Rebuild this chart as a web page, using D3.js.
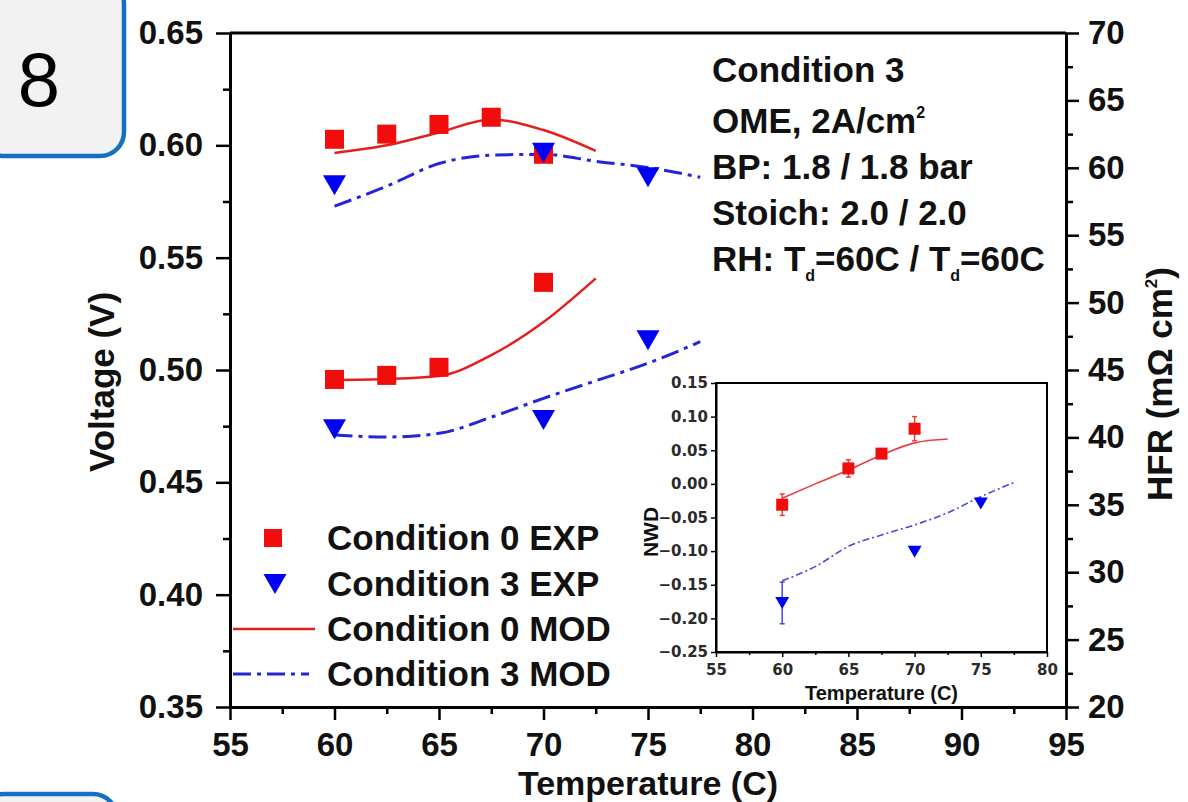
<!DOCTYPE html>
<html>
<head>
<meta charset="utf-8">
<script src="https://cdn.jsdelivr.net/npm/d3@7"></script>
<style>
  body { margin: 0; background: #fff; }
  svg { display: block; }
</style>
</head>
<body>
<script>
// main chart data
const expTemp0 = [60, 62.5, 65, 67.5, 70];
const expVolt0 = [0.6027, 0.605, 0.6093, 0.6125, 0.596];
const expTempHfr0 = [60, 62.5, 65, 70];
const expHfr0 = [44.3, 44.6, 45.2, 51.5];
const expTemp3 = [60, 70, 75];
const expVolt3 = [0.5822, 0.5967, 0.5858];
const expHfr3 = [40.6, 41.3, 47.2];

const modTemp0 = [60, 62.5, 65, 67.5, 70, 72.5];
const modVolt0 = [0.5966, 0.600, 0.6057, 0.6115, 0.6068, 0.5975];
const modHfr0 = [44.26, 44.33, 44.55, 46.1, 48.56, 51.8];
const modTemp3 = [60, 62.5, 65, 67.5, 70, 72.5, 75, 77.5];
const modVolt3 = [0.5729, 0.5818, 0.5919, 0.5956, 0.596, 0.5929, 0.5901, 0.5858];
const modHfr3 = [40.18, 40.03, 40.3, 41.5, 42.9, 44.2, 45.5, 47.1];

// tick values
const xTicks = [55, 60, 65, 70, 75, 80, 85, 90, 95];
const xMinor = [57.5, 62.5, 67.5, 72.5, 77.5, 82.5, 87.5, 92.5];
const vTicks = [0.35, 0.40, 0.45, 0.50, 0.55, 0.60, 0.65];
const vMinor = [0.375, 0.425, 0.475, 0.525, 0.575, 0.625];
const hTicks = [20, 25, 30, 35, 40, 45, 50, 55, 60, 65, 70];
const hMinor = [22.5, 27.5, 32.5, 37.5, 42.5, 47.5, 52.5, 57.5, 62.5, 67.5];

// inset data (NWD)
const nwdTempExp0 = [60, 65, 67.5, 70];
const nwdExp0 = [-0.031, 0.023, 0.045, 0.082];
const nwdErr0 = [0.016, 0.013, 0.005, 0.018];
const nwdTempExp3 = [60, 70, 75];
const nwdExp3 = [-0.177, -0.101, -0.029];
const nwdErr3 = [0.031, 0, 0];
const nwdTempMod0 = [60, 62.5, 65, 67.5, 70, 72.5];
const nwdMod0 = [-0.0215, 0.0, 0.0206, 0.043, 0.061, 0.0667];
const nwdTempMod3 = [60, 62.5, 65, 67.5, 70, 72.5, 75, 77.5];
const nwdMod3 = [-0.144, -0.123, -0.093, -0.076, -0.061, -0.043, -0.019, 0.002];
const inXTicks = [55, 60, 65, 70, 75, 80];
const inXMinor = [57.5, 62.5, 67.5, 72.5, 77.5];
const inYTicks = [-0.25, -0.20, -0.15, -0.10, -0.05, 0.00, 0.05, 0.10, 0.15];

const legendLabels = ["Condition 0 EXP", "Condition 3 EXP", "Condition 0 MOD", "Condition 3 MOD"];
const noteLines = ["Condition 3", "OME, 2A/cm", "BP: 1.8 / 1.8 bar", "Stoich: 2.0 / 2.0", "RH: "];

const RED = "#f20d0d", BLUE = "#0000f2", RED_LINE = "#e41f1f", BLUE_LINE = "#2424d8";
const FONT = "'Liberation Sans', Arial, sans-serif";

// dimensions
const margin = {top: 33, right: 122, bottom: 95, left: 230},
    width = 1188 - margin.left - margin.right,
    height = 802 - margin.top - margin.bottom;

const svg = d3.select("body").append("svg")
    .attr("width", 1188)
    .attr("height", 802);

svg.append("rect").attr("width", 1188).attr("height", 802).attr("fill", "#fff");

// panel number boxes
svg.append("rect")
    .attr("x", -20).attr("y", -20).attr("width", 144).attr("height", 176).attr("rx", 24)
    .attr("fill", "#f2f2f2").attr("stroke", "#1470c2").attr("stroke-width", 4.5);
svg.append("text")
    .attr("x", 39).attr("y", 106).attr("text-anchor", "middle")
    .attr("font-family", FONT).attr("font-size", 76).attr("fill", "#000")
    .text("8");
svg.append("rect")
    .attr("x", -20).attr("y", 794).attr("width", 137).attr("height", 100).attr("rx", 24)
    .attr("fill", "#f2f2f2").attr("stroke", "#1470c2").attr("stroke-width", 4.5);

const g = svg.append("g")
    .attr("transform", "translate(" + margin.left + "," + margin.top + ")");

// scales
const x = d3.scaleLinear().domain([55, 95]).range([0, width]);
const yV = d3.scaleLinear().domain([0.35, 0.65]).range([height, 0]);
const yH = d3.scaleLinear().domain([20, 70]).range([height, 0]);

function styleAxis(sel, size) {
  sel.select(".domain").attr("stroke", "#000").attr("stroke-width", 3);
  sel.selectAll(".tick line").attr("stroke", "#000").attr("stroke-width", 2.5);
  sel.selectAll("text")
      .attr("font-family", FONT).attr("font-weight", "bold")
      .attr("font-size", size).attr("fill", "#111");
}

// minor ticks
g.append("g").attr("transform", "translate(0," + height + ")")
    .call(d3.axisBottom(x).tickValues(xMinor).tickSize(7).tickFormat(""))
    .call(s => { s.select(".domain").remove(); styleAxis(s, 33); });
g.append("g")
    .call(d3.axisLeft(yV).tickValues(vMinor).tickSize(7).tickFormat(""))
    .call(s => { s.select(".domain").remove(); styleAxis(s, 33); });
g.append("g").attr("transform", "translate(" + width + ",0)")
    .call(d3.axisRight(yH).tickValues(hMinor).tickSize(7).tickFormat(""))
    .call(s => { s.select(".domain").remove(); styleAxis(s, 33); });

// major axes
g.append("g").attr("transform", "translate(0," + height + ")")
    .call(d3.axisBottom(x).tickValues(xTicks).tickSize(13).tickSizeOuter(0).tickPadding(13))
    .call(s => styleAxis(s, 33));
g.append("g")
    .call(d3.axisLeft(yV).tickValues(vTicks).tickSize(14).tickSizeOuter(0).tickPadding(13)
      .tickFormat(d3.format(".2f")))
    .call(s => styleAxis(s, 33));
g.append("g").attr("transform", "translate(" + width + ",0)")
    .call(d3.axisRight(yH).tickValues(hTicks).tickSize(13).tickSizeOuter(0).tickPadding(9))
    .call(s => styleAxis(s, 33));

// top frame line
g.append("line")
    .attr("x1", 0).attr("x2", width).attr("y1", 0).attr("y2", 0)
    .attr("stroke", "#000").attr("stroke-width", 3);

// axis titles
svg.append("text")
    .attr("transform", "translate(114,382) rotate(-90)")
    .attr("text-anchor", "middle")
    .attr("font-family", FONT).attr("font-weight", "bold").attr("font-size", 35).attr("fill", "#111")
    .text("Voltage (V)");
const hfrTitle = svg.append("text")
    .attr("transform", "translate(1172,384) rotate(-90)")
    .attr("text-anchor", "middle")
    .attr("font-family", FONT).attr("font-weight", "bold").attr("font-size", 35).attr("fill", "#111");
hfrTitle.append("tspan").text("HFR (m\u03A9 cm");
hfrTitle.append("tspan").attr("font-size", 17).attr("dy", -15).text("2");
hfrTitle.append("tspan").attr("dy", 15).text(")");
svg.append("text")
    .attr("x", margin.left + width / 2).attr("y", 795)
    .attr("text-anchor", "middle")
    .attr("font-family", FONT).attr("font-weight", "bold").attr("font-size", 34).attr("fill", "#111")
    .text("Temperature (C)");

// model lines
const lineV = d3.line().x(d => x(d[0])).y(d => yV(d[1])).curve(d3.curveMonotoneX);
const lineH = d3.line().x(d => x(d[0])).y(d => yH(d[1])).curve(d3.curveMonotoneX);

g.append("path").datum(d3.zip(modTemp0, modVolt0)).attr("d", lineV)
    .attr("fill", "none").attr("stroke", RED_LINE).attr("stroke-width", 2.5);
g.append("path").datum(d3.zip(modTemp0, modHfr0)).attr("d", lineH)
    .attr("fill", "none").attr("stroke", RED_LINE).attr("stroke-width", 2.5);
g.append("path").datum(d3.zip(modTemp3, modVolt3)).attr("d", lineV)
    .attr("fill", "none").attr("stroke", BLUE_LINE).attr("stroke-width", 3)
    .attr("stroke-dasharray", "18,6,4,6");
g.append("path").datum(d3.zip(modTemp3, modHfr3)).attr("d", lineH)
    .attr("fill", "none").attr("stroke", BLUE_LINE).attr("stroke-width", 3)
    .attr("stroke-dasharray", "18,6,4,6");

// marker shapes
function triDown(w, h) {
  return "M" + (-w / 2) + "," + (-h / 2) + "L" + (w / 2) + "," + (-h / 2) + "L0," + (h / 2) + "Z";
}

// experimental points
g.append("g").selectAll("rect")
    .data(d3.zip(expTemp0, expVolt0).map(d => [x(d[0]), yV(d[1])])
      .concat(d3.zip(expTempHfr0, expHfr0).map(d => [x(d[0]), yH(d[1])])))
    .enter().append("rect")
      .attr("x", d => d[0] - 9.5).attr("y", d => d[1] - 9.5)
      .attr("width", 19).attr("height", 19)
      .attr("fill", RED);
g.append("g").selectAll("path")
    .data(d3.zip(expTemp3, expVolt3).map(d => [x(d[0]), yV(d[1])])
      .concat(d3.zip(expTemp3, expHfr3).map(d => [x(d[0]), yH(d[1])])))
    .enter().append("path")
      .attr("transform", d => "translate(" + d[0] + "," + d[1] + ")")
      .attr("d", triDown(23, 20))
      .attr("fill", BLUE);

// legend
const legendY = [538, 584, 629, 674];
const leg = svg.append("g");
leg.append("rect").attr("x", 264).attr("y", legendY[0] - 9).attr("width", 18).attr("height", 18).attr("fill", RED);
leg.append("path").attr("transform", "translate(275," + legendY[1] + ")").attr("d", triDown(23, 20)).attr("fill", BLUE);
leg.append("line").attr("x1", 233).attr("x2", 315).attr("y1", legendY[2]).attr("y2", legendY[2])
    .attr("stroke", RED_LINE).attr("stroke-width", 2.5);
leg.append("line").attr("x1", 233).attr("x2", 309).attr("y1", legendY[3]).attr("y2", legendY[3])
    .attr("stroke", BLUE_LINE).attr("stroke-width", 3).attr("stroke-dasharray", "18,6,4,6");
leg.selectAll("text").data(legendLabels).enter().append("text")
    .attr("x", 327).attr("y", (d, i) => legendY[i] + 12)
    .attr("font-family", FONT).attr("font-weight", "bold").attr("font-size", 35).attr("fill", "#111")
    .text(d => d);

// condition notes
const noteY = [82, 133, 179, 225, 271];
const notes = svg.append("g")
    .attr("font-family", FONT).attr("font-weight", "bold").attr("font-size", 35).attr("fill", "#111");
noteLines.forEach((t, i) => {
  const tx = notes.append("text").attr("x", 712).attr("y", noteY[i]).text(t);
  if (i === 1) {
    tx.append("tspan").attr("font-size", 16).attr("dy", -15).text("2");
  }
  if (i === 4) {
    tx.append("tspan").text("T");
    tx.append("tspan").attr("font-size", 16).attr("dy", 10).text("d");
    tx.append("tspan").attr("dy", -10).text("=60C / T");
    tx.append("tspan").attr("font-size", 16).attr("dy", 10).text("d");
    tx.append("tspan").attr("dy", -10).text("=60C");
  }
});

// inset: NWD vs temperature
const inset = {left: 716, top: 383, right: 1047, bottom: 652};
const xi = d3.scaleLinear().domain([55, 80]).range([inset.left, inset.right]);
const yi = d3.scaleLinear().domain([-0.25, 0.15]).range([inset.bottom, inset.top]);
const ig = svg.append("g");

ig.append("rect")
    .attr("x", inset.left).attr("y", inset.top)
    .attr("width", inset.right - inset.left).attr("height", inset.bottom - inset.top)
    .attr("fill", "#fff");

function styleInset(sel) {
  sel.select(".domain").attr("stroke", "#000").attr("stroke-width", 2);
  sel.selectAll(".tick line").attr("stroke", "#000").attr("stroke-width", 1.5);
  sel.selectAll("text")
      .attr("font-family", "'DejaVu Sans', sans-serif").attr("font-weight", "bold")
      .attr("font-size", 15).attr("fill", "#2a2a2a");
}
ig.append("g").attr("transform", "translate(0," + inset.bottom + ")")
    .call(d3.axisBottom(xi).tickValues(inXMinor).tickSize(3).tickFormat(""))
    .call(s => { s.select(".domain").remove(); styleInset(s); });
ig.append("g").attr("transform", "translate(0," + inset.bottom + ")")
    .call(d3.axisBottom(xi).tickValues(inXTicks).tickSize(5).tickSizeOuter(0).tickPadding(7))
    .call(styleInset);
ig.append("g").attr("transform", "translate(" + inset.left + ",0)")
    .call(d3.axisLeft(yi).tickValues(inYTicks).tickSize(5).tickSizeOuter(0).tickPadding(3)
      .tickFormat(d3.format(".2f")))
    .call(styleInset);
ig.append("rect")
    .attr("x", inset.left).attr("y", inset.top)
    .attr("width", inset.right - inset.left).attr("height", inset.bottom - inset.top)
    .attr("fill", "none").attr("stroke", "#000").attr("stroke-width", 2);

ig.append("text")
    .attr("x", (inset.left + inset.right) / 2).attr("y", 700).attr("text-anchor", "middle")
    .attr("font-family", FONT).attr("font-weight", "bold").attr("font-size", 20).attr("fill", "#111")
    .text("Temperature (C)");
ig.append("text")
    .attr("transform", "translate(658,532) rotate(-90)").attr("text-anchor", "middle")
    .attr("font-family", FONT).attr("font-weight", "bold").attr("font-size", 21).attr("fill", "#111")
    .text("NWD");

const lineI = d3.line().x(d => xi(d[0])).y(d => yi(d[1])).curve(d3.curveMonotoneX);
ig.append("path").datum(d3.zip(nwdTempMod0, nwdMod0)).attr("d", lineI)
    .attr("fill", "none").attr("stroke", "#e64040").attr("stroke-width", 1.6);
ig.append("path").datum(d3.zip(nwdTempMod3, nwdMod3)).attr("d", lineI)
    .attr("fill", "none").attr("stroke", "#4a4ad8").attr("stroke-width", 1.6)
    .attr("stroke-dasharray", "7,3,2,3");

// error bars
function errBars(temps, vals, errs, color) {
  const eb = ig.append("g").attr("stroke", color).attr("stroke-width", 1.5);
  temps.forEach((t, i) => {
    if (!errs[i]) return;
    const cx = xi(t), y0 = yi(vals[i] - errs[i]), y1 = yi(vals[i] + errs[i]);
    eb.append("line").attr("x1", cx).attr("x2", cx).attr("y1", y0).attr("y2", y1);
    eb.append("line").attr("x1", cx - 2.5).attr("x2", cx + 2.5).attr("y1", y0).attr("y2", y0);
    eb.append("line").attr("x1", cx - 2.5).attr("x2", cx + 2.5).attr("y1", y1).attr("y2", y1);
  });
}
errBars(nwdTempExp0, nwdExp0, nwdErr0, "#e64040");
errBars(nwdTempExp3, nwdExp3, nwdErr3, "#4a4ad8");

ig.append("g").selectAll("rect")
    .data(d3.zip(nwdTempExp0, nwdExp0))
    .enter().append("rect")
      .attr("x", d => xi(d[0]) - 6).attr("y", d => yi(d[1]) - 6)
      .attr("width", 12).attr("height", 12)
      .attr("fill", RED);
ig.append("g").selectAll("path")
    .data(d3.zip(nwdTempExp3, nwdExp3))
    .enter().append("path")
      .attr("transform", d => "translate(" + xi(d[0]) + "," + yi(d[1]) + ")")
      .attr("d", triDown(14, 12))
      .attr("fill", BLUE);
</script>
</body>
</html>
